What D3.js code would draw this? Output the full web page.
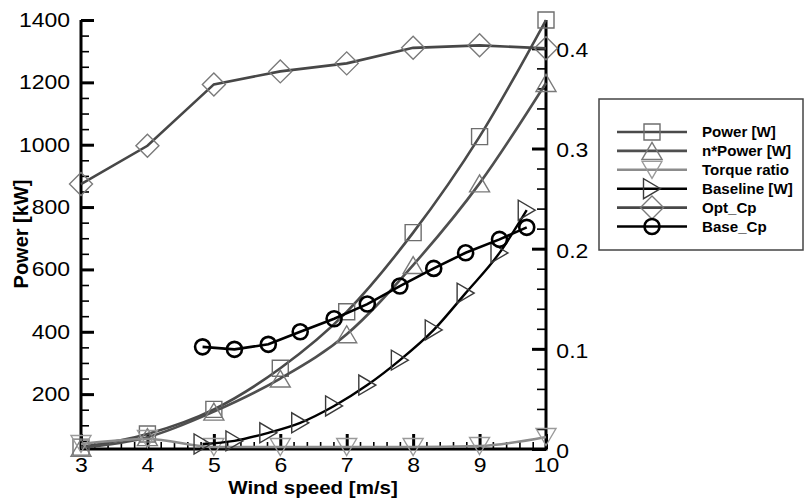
<!DOCTYPE html>
<html>
<head>
<meta charset="utf-8">
<script src="https://cdn.jsdelivr.net/npm/d3@7"></script>
<style>
    body { margin: 0; background: #fff; }
    svg { display: block; font-family: "Liberation Sans", Arial, Helvetica, sans-serif; }
</style>
</head>
<body>
<div id="chart"></div>
<script>
// values
var windSpeed = [3, 4, 5, 6, 7, 8, 9, 10];
var powerW = [30, 72, 151, 283, 464, 718, 1026, 1400];
var nPowerW = [28, 62, 144, 250, 392, 614, 876, 1198];
var torqueRatio = [0.005, 0.010, 0.002, 0.002, 0.002, 0.002, 0.003, 0.012];
var optCp = [0.2645, 0.3027, 0.364, 0.377, 0.385, 0.4005, 0.403, 0.400];

var baseSpeed = [4.83, 5.31, 5.82, 6.30, 6.81, 7.31, 7.80, 8.31, 8.79, 9.30, 9.71];
var baselineW = [40, 50, 76, 108, 162, 229, 309, 406, 524, 653, 790];
var baseCp = [0.102, 0.0995, 0.1045, 0.117, 0.130, 0.1447, 0.1627, 0.1803, 0.1959, 0.2093, 0.2213];

var xTicks = [3, 4, 5, 6, 7, 8, 9, 10];
var leftTicks = [200, 400, 600, 800, 1000, 1200, 1400];
var rightTicks = [0, 0.1, 0.2, 0.3, 0.4];
var seriesNames = ["Power [W]", "n*Power [W]", "Torque ratio", "Baseline [W]", "Opt_Cp", "Base_Cp"];

var width = 804, height = 498;
var svg = d3.select("#chart").append("svg")
    .attr("width", width)
    .attr("height", height);

var x = d3.scaleLinear().domain([3, 10]).range([81, 546]);
var yLeft = d3.scaleLinear().domain([24, 1400]).range([449, 20]);
var yRight = d3.scaleLinear().domain([0, 0.4283]).range([449, 20]);

// marker shapes, centred on 0,0
function markerPath(type) {
    switch (type) {
        case "square":
            return "M-8,-8H8V8H-8Z";
        case "up":
            return "M0,-8.5L10,8.5L-10,8.5Z";
        case "down":
            return "M0,8.5L10,-8.5L-10,-8.5Z";
        case "right":
            return "M8.5,0L-8.5,10L-8.5,-10Z";
        case "diamond":
            return "M0,-11.5L11.5,0L0,11.5L-11.5,0Z";
        case "circle":
            return "M7.5,0A7.5,7.5 0 1,1 -7.5,0A7.5,7.5 0 1,1 7.5,0Z";
    }
}

var series = [
    {name: seriesNames[0], xs: windSpeed, ys: powerW, y: yLeft, line: "#4a4a4a", lw: 2.6, marker: "square", mc: "#6e6e6e", mw: 1.4, curve: d3.curveMonotoneX},
    {name: seriesNames[1], xs: windSpeed, ys: nPowerW, y: yLeft, line: "#4f4f4f", lw: 2.6, marker: "up", mc: "#7a7a7a", mw: 1.4, curve: d3.curveMonotoneX},
    {name: seriesNames[2], xs: windSpeed, ys: torqueRatio, y: yRight, line: "#8c8c8c", lw: 2.6, marker: "down", mc: "#9a9a9a", mw: 1.4, curve: d3.curveMonotoneX},
    {name: seriesNames[3], xs: baseSpeed, ys: baselineW, y: yLeft, line: "#000", lw: 2.4, marker: "right", mc: "#3a3a3a", mw: 1.4, curve: d3.curveMonotoneX},
    {name: seriesNames[4], xs: windSpeed, ys: optCp, y: yRight, line: "#474747", lw: 2.6, marker: "diamond", mc: "#7a7a7a", mw: 1.4, curve: d3.curveLinear},
    {name: seriesNames[5], xs: baseSpeed, ys: baseCp, y: yRight, line: "#000", lw: 2.6, marker: "circle", mc: "#000", mw: 2.6, curve: d3.curveLinear}
];

// axes
function styleAxis(g, major) {
    g.selectAll(".tick line")
        .attr("stroke", "#000")
        .attr("stroke-width", major ? 3 : 1.6);
    g.select(".domain").remove();
    g.selectAll("text")
        .attr("fill", "#000")
        .style("font-size", "20px");
}

var leftMinor = svg.append("g").attr("transform", "translate(81,0)")
    .call(d3.axisLeft(yLeft).tickValues(d3.range(50, 1400, 50)).tickSize(-8).tickFormat(""));
styleAxis(leftMinor, false);
var leftMajor = svg.append("g").attr("transform", "translate(81,0)")
    .call(d3.axisLeft(yLeft).tickValues(leftTicks).tickSize(-13).tickPadding(9.5).tickFormat(d3.format("d")));
styleAxis(leftMajor, true);
leftMajor.selectAll("text").attr("transform", "scale(1.15,1)");

var bottomMinor = svg.append("g").attr("transform", "translate(0,449)")
    .call(d3.axisBottom(x).tickValues(d3.range(3.2, 10, 0.2)).tickSize(-7).tickFormat(""));
styleAxis(bottomMinor, false);
var bottomMajor = svg.append("g").attr("transform", "translate(0,449)")
    .call(d3.axisBottom(x).tickValues(xTicks).tickSize(-15).tickPadding(9).tickFormat(d3.format("d")));
styleAxis(bottomMajor, true);
bottomMajor.selectAll("text").attr("transform", "scale(1.15,1)");

var rightMinor = svg.append("g").attr("transform", "translate(546,0)")
    .call(d3.axisRight(yRight).tickValues(d3.range(0.02, 0.42, 0.02)).tickSize(-9).tickFormat(""));
styleAxis(rightMinor, false);
var rightMajor = svg.append("g").attr("transform", "translate(546,0)")
    .call(d3.axisRight(yRight).tickValues(rightTicks).tickSize(-14).tickPadding(9)
        .tickFormat(function (d) { return d === 0 ? "0" : d.toFixed(1); }));
styleAxis(rightMajor, true);
rightMajor.selectAll("text").attr("transform", "scale(1.15,1)").attr("dy", "0.42em");

// axis lines
var frame = svg.append("g").attr("stroke", "#000").attr("stroke-width", 3).attr("fill", "none");
frame.append("path").attr("d", "M" + x(3) + "," + yLeft.range()[1] + "V" + yLeft.range()[0] + "H" + x(10) + "V" + yRight.range()[1]);

// curves
var plot = svg.append("g");
series.forEach(function (s) {
    var pts = s.xs.map(function (d, i) { return [x(d), s.y(s.ys[i])]; });
    plot.append("path")
        .attr("d", d3.line().curve(s.curve)(pts))
        .attr("fill", "none")
        .attr("stroke", s.line)
        .attr("stroke-width", s.lw);
    plot.append("g").selectAll("path")
        .data(pts)
        .enter()
        .append("path")
        .attr("transform", function (p) { return "translate(" + p[0] + "," + p[1] + ")"; })
        .attr("d", markerPath(s.marker))
        .attr("fill", "none")
        .attr("stroke", s.mc)
        .attr("stroke-width", s.mw);
});

// axis titles
svg.append("g").attr("transform", "translate(313,494) scale(1.08,1)")
    .append("text")
    .attr("text-anchor", "middle")
    .style("font-size", "19px")
    .style("font-weight", "bold")
    .text("Wind speed [m/s]");

svg.append("text")
    .attr("transform", "translate(28,234) rotate(-90)")
    .attr("text-anchor", "middle")
    .style("font-size", "20px")
    .style("font-weight", "bold")
    .text("Power [kW]");

// legend
var legend = svg.append("g");
legend.append("rect")
    .attr("x", 599).attr("y", 99)
    .attr("width", 204).attr("height", 151)
    .attr("fill", "#fff")
    .attr("stroke", "#444")
    .attr("stroke-width", 1.5);

var rows = legend.selectAll(".row")
    .data(series)
    .enter()
    .append("g")
    .attr("class", "row")
    .attr("transform", function (d, i) { return "translate(652," + (132 + i * 18.9) + ")"; });

rows.append("line")
    .attr("x1", -35).attr("x2", 35)
    .attr("stroke", function (d) { return d.line; })
    .attr("stroke-width", function (d) { return d.lw; });
rows.append("path")
    .attr("d", function (d) { return markerPath(d.marker); })
    .attr("fill", "none")
    .attr("stroke", function (d) { return d.mc; })
    .attr("stroke-width", function (d) { return d.mw; });
rows.append("g")
    .attr("transform", "translate(50,5) scale(1.08,1)")
    .append("text")
    .style("font-size", "14px")
    .style("font-weight", "bold")
    .text(function (d) { return d.name; });
</script>
</body>
</html>
